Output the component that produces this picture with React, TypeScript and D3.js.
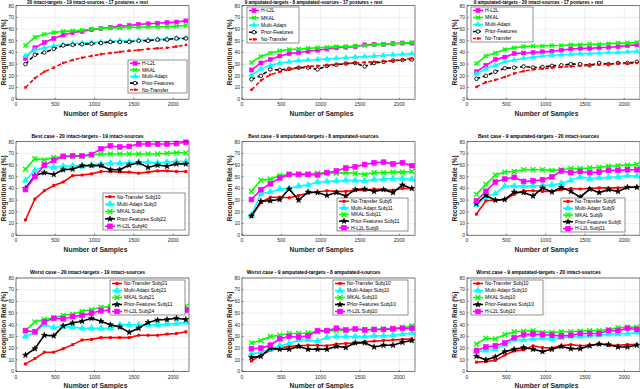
import React from 'react';
import * as d3 from 'd3';

// x positions of every curve (number of samples)
const samples = [120, 240, 360, 480, 600, 720, 840, 960, 1080, 1200, 1320, 1440, 1560, 1680, 1800, 1920, 2040, 2160];
const xTicks = [0, 500, 1000, 1500, 2000];
const yTicks = [0, 10, 20, 30, 40, 50, 60, 70, 80];

const rowTitles = [
  ['20 intact-targets - 19 intact-sources - 17 postures + rest', '9 amputated-targets - 8 amputated-sources - 17 postures + rest', '9 amputated-targets - 20 intact-sources - 17 postures + rest'],
  ['Best case - 20 intact-targets - 19 intact-sources', 'Best case - 9 amputated-targets - 8 amputated-sources', 'Best case - 9 amputated-targets - 20 intact-sources'],
  ['Worst case - 20 intact-targets - 19 intact-sources', 'Worst case - 9 amputated-targets - 8 amputated-sources', 'Worst case - 9 amputated-targets - 20 intact-sources'],
];

// ---- row 1 : averages ----
const a1HL2L = [35, 44, 48.5, 52, 55, 57, 58, 59.5, 60.5, 61.5, 62.5, 63, 64, 64.5, 65, 65.5, 66, 67];
const a1MKAL = [46, 53, 55.5, 57, 58, 58.5, 59, 60, 60.5, 61, 61, 61.5, 61.5, 62, 62, 62, 62.5, 63];
const a1Multi = [37, 42, 44, 45.5, 46.5, 47.5, 48, 48.5, 49, 49.5, 50, 50, 50.5, 51, 51, 51.5, 52, 52.5];
const a1Prior = [30, 38, 40, 43, 46, 46.5, 47, 47.5, 48, 49, 49, 49, 50, 50, 51, 51, 52, 52];
const a1NoTr = [10, 18, 23.5, 27, 31, 33.5, 35.5, 37, 38.5, 39.5, 40.5, 41.5, 42, 43, 43.5, 44, 45, 46.5];

const a2HL2L = [25, 31, 34, 37, 39, 40, 41, 42, 43, 44, 44.5, 45, 46.5, 47, 47, 47.5, 48, 48];
const a2MKAL = [31.5, 36.5, 39.5, 41.5, 42.5, 43, 43.5, 44, 44.5, 45, 45, 45.5, 46, 46.5, 47, 47.5, 48, 48.5];
const a2Multi = [20.5, 26, 29, 31, 32, 33, 33.5, 34, 34.5, 35, 35.5, 36, 36.5, 37, 37.5, 38, 38.5, 39];
const a2Prior = [17, 20, 25.5, 25, 26, 27, 27, 25.5, 28.5, 29.5, 30.5, 31, 28, 31, 32, 33, 33.5, 34];
const a2NoTr = [8, 16, 21, 23.5, 25.5, 27, 28, 28.5, 29, 30, 30.5, 31, 31.5, 32, 32.5, 33, 34, 35];

const a3HL2L = [23.5, 29, 34, 36, 39, 39.5, 40, 40.5, 41, 42, 43, 43.5, 43.5, 44, 44.5, 45, 46, 46.5];
const a3MKAL = [30.5, 37, 39.5, 42.5, 44, 45, 45.5, 45.5, 46, 46, 46.5, 46.5, 47, 47, 47.5, 48, 48, 48.5];
const a3Multi = [21.5, 26, 29, 32, 33.5, 35, 36, 37, 37.5, 38, 38.5, 39, 39, 39.5, 40, 40, 40.5, 41];
const a3Prior = [17.5, 20, 23.5, 26.5, 27, 28, 27, 27.5, 28.5, 29, 30, 30, 29, 31, 30, 31, 31, 32];
const a3NoTr = [10.5, 14.5, 16.5, 19, 22, 24, 25.5, 26, 27, 27.5, 28, 28.5, 29, 29.5, 30, 30.5, 30.5, 31];

// ---- row 2 : best case ----
const b1NoTr = [13, 31, 38, 42.5, 45.5, 51, 51.5, 52.5, 54.5, 54.5, 54, 54, 53, 54, 55, 55, 54.5, 54.5];
const b1Multi = [47, 55.5, 59, 58, 59, 59.5, 59, 60, 61, 61.5, 61.5, 62, 62.5, 62.5, 62, 62.5, 63, 63];
const b1MKAL = [56.5, 65.5, 64.5, 66.5, 67, 67.5, 67.5, 68.5, 69.5, 69.5, 69.5, 69.5, 69.5, 69.5, 69.5, 70, 70.5, 70.5];
const b1Prior = [40, 51, 53.5, 52, 56, 56.5, 59.5, 59.5, 59.5, 56, 56, 60, 62, 58, 60, 59, 61, 61];
const b1HL2L = [39, 50, 60, 64, 67.5, 68, 68, 69, 74, 76.5, 75.5, 76, 78, 78, 78, 78, 78.5, 79.5];

const b2NoTr = [16, 28, 32.5, 32.5, 32, 34, 36, 37, 38, 37.5, 37.5, 38.5, 38.5, 39.5, 39, 38.5, 40, 40];
const b2Multi = [17, 35.5, 37, 39.5, 40, 42, 43, 45.5, 46, 46.5, 47, 47, 46.5, 47.5, 48, 48.5, 48.5, 48];
const b2MKAL = [37.5, 47, 48, 51, 52, 52.5, 52.5, 53, 53.5, 53, 53.5, 53, 52, 53.5, 53.5, 54, 54, 54.5];
const b2Prior = [16.5, 29, 29.5, 30.5, 39.5, 30, 37, 36.5, 34, 36.5, 33.5, 39, 39.5, 37.5, 39, 36.5, 43, 40];
const b2HL2L = [30.5, 39, 44, 49, 52, 52, 52, 51.5, 53.5, 55, 57.5, 58.5, 60.5, 62, 62.5, 61, 62, 59.5];

const b3NoTr = [18, 29.5, 30, 30.5, 35, 38, 38, 37.5, 37.5, 39, 40, 39.5, 40, 40.5, 40.5, 40.5, 41, 41];
const b3Multi = [26, 33, 35.5, 42, 42, 42, 42, 42.5, 43, 44.5, 47, 50, 48.5, 49, 49.5, 50, 51, 50.5];
const b3MKAL = [35, 43.5, 51.5, 54, 54.5, 56, 56, 56, 55.5, 56, 57, 57, 57.5, 58, 59, 59.5, 60, 60.5];
const b3Prior = [27, 34, 30, 30.5, 37, 36.5, 33.5, 40.5, 37, 41, 37.5, 32.5, 39.5, 36.5, 39, 37.5, 41, 41];
const b3HL2L = [29.5, 37.5, 45.5, 48, 49.5, 46, 46.5, 47.5, 50, 55, 53.5, 54.5, 53.5, 54, 55.5, 55.5, 56, 56];

// ---- row 3 : worst case ----
const w1NoTr = [6.5, 11, 16.5, 16.5, 19.5, 23, 27, 27.5, 29, 29, 29, 29, 31, 31, 31, 32, 32.5, 34];
const w1Multi = [30, 33.5, 40, 37.5, 38.5, 38, 37, 37, 37, 37, 40, 40, 40, 40, 40, 40.5, 41, 42];
const w1MKAL = [35, 42.5, 44.5, 46, 48, 49, 51.5, 53, 55, 55.5, 56, 55.5, 55.5, 55, 55, 55, 55, 56];
const w1Prior = [14, 19.5, 31, 30.5, 39, 41.5, 43, 45.5, 43, 40, 38, 33.5, 37, 42, 44, 44.5, 45.5, 44.5];
const w1HL2L = [35, 34, 42.5, 45.5, 45, 47, 48, 50, 52, 52.5, 52, 52.5, 52.5, 52, 52, 52.5, 52.5, 52.5];

const w2NoTr = [9, 14, 18, 20, 21.5, 22, 22.5, 22.5, 22, 23.5, 24, 24.5, 25.5, 26, 26.5, 27, 27.5, 28];
const w2Multi = [15, 16.5, 19, 22, 24, 27, 27, 26, 29, 30, 30, 30, 30, 30.5, 30.5, 31, 32, 33];
const w2MKAL = [24.5, 26.5, 30, 31, 32.5, 32.5, 33, 34, 34.5, 35, 35.5, 36, 36, 36, 36.5, 37, 37.5, 39];
const w2Prior = [12, 13, 20, 19, 19, 21.5, 19, 19, 19, 21.5, 20.5, 24.5, 24.5, 21, 22.5, 22.5, 25, 26.5];
const w2HL2L = [19.5, 20, 22.5, 28, 30, 29.5, 30.5, 35, 35, 37, 35.5, 36.5, 35.5, 36, 36, 36.5, 37, 37];

const w3NoTr = [8, 8.5, 9.5, 14, 17.5, 18.5, 22, 20.5, 20, 22, 23, 22, 22.5, 23.5, 22.5, 22.5, 23, 23];
const w3Multi = [17, 18, 19, 23, 27, 27, 28, 28.5, 28, 29, 30, 30, 30.5, 31, 32, 32, 32.5, 33.5];
const w3MKAL = [23.5, 28.5, 28, 31.5, 34, 34.5, 35, 33.5, 33.5, 34, 34, 34.5, 35, 35, 36, 37.5, 38, 38];
const w3Prior = [13, 10, 12.5, 17, 19, 20.5, 19, 17, 19, 21.5, 19.5, 19.5, 22, 23.5, 23, 21, 21, 22.5];
const w3HL2L = [18, 21, 22, 24.5, 29, 31.5, 32, 31.5, 31, 30.5, 31, 32.5, 32.5, 32.5, 35, 35, 37, 36];

const bestSubjects = [['10', '3', '3', '22', '40'], ['6', '11', '11', '11', '9'], ['6', '9', '9', '6', '11']];
const worstSubjects = [['21', '21', '21', '11', '24'], ['10', '10', '10', '10', '10'], ['10', '10', '10', '10', '10']];

const MAG = '#ff00ff', GRN = '#00ff00', CYA = '#00ffff', BLK = '#000000', RED = '#ff0000';

type Series = { name: string; values: number[]; color: string; marker: string; dashed?: boolean };

const avgSeries = (h: number[], m: number[], mu: number[], p: number[], n: number[]): Series[] => [
  { name: 'H-L2L', values: h, color: MAG, marker: 'square' },
  { name: 'MKAL', values: m, color: GRN, marker: 'x' },
  { name: 'Multi-Adapt', values: mu, color: CYA, marker: 'tri' },
  { name: 'Prior-Features', values: p, color: BLK, marker: 'circle', dashed: true },
  { name: 'No-Transfer', values: n, color: RED, marker: 'dot', dashed: true },
];

const caseSeries = (n: number[], mu: number[], m: number[], p: number[], h: number[], subj: string[]): Series[] => [
  { name: 'No-Transfer Subj' + subj[0], values: n, color: RED, marker: 'dot' },
  { name: 'Multi-Adapt Subj' + subj[1], values: mu, color: CYA, marker: 'tri' },
  { name: 'MKAL Subj' + subj[2], values: m, color: GRN, marker: 'x' },
  { name: 'Prior-Features Subj' + subj[3], values: p, color: BLK, marker: 'star' },
  { name: 'H-L2L Subj' + subj[4], values: h, color: MAG, marker: 'square' },
];

const panelSeries: Series[][][] = [
  [avgSeries(a1HL2L, a1MKAL, a1Multi, a1Prior, a1NoTr), avgSeries(a2HL2L, a2MKAL, a2Multi, a2Prior, a2NoTr), avgSeries(a3HL2L, a3MKAL, a3Multi, a3Prior, a3NoTr)],
  [caseSeries(b1NoTr, b1Multi, b1MKAL, b1Prior, b1HL2L, bestSubjects[0]), caseSeries(b2NoTr, b2Multi, b2MKAL, b2Prior, b2HL2L, bestSubjects[1]), caseSeries(b3NoTr, b3Multi, b3MKAL, b3Prior, b3HL2L, bestSubjects[2])],
  [caseSeries(w1NoTr, w1Multi, w1MKAL, w1Prior, w1HL2L, worstSubjects[0]), caseSeries(w2NoTr, w2Multi, w2MKAL, w2Prior, w2HL2L, worstSubjects[1]), caseSeries(w3NoTr, w3Multi, w3MKAL, w3Prior, w3HL2L, worstSubjects[2])],
];

// layout
const colLeft = [16, 242, 467];
const rowTop = [5.7, 141.7, 278];
const plotW = 173;
const plotH = 93.5;
// legend boxes [x, y, w, h]
const legendBoxes = [
  [[128, 60, 59, 33], [247, 7, 52, 36], [471, 7, 62, 35]],
  [[103, 193, 82, 37], [337, 198, 71, 33], [561, 198, 64, 34]],
  [[110, 280, 75, 35], [333, 280, 75, 35], [471, 280, 72, 35]],
];

const FONT = 'Liberation Sans, Arial, Helvetica, sans-serif';

function Marker({ kind, x, y, color, s }: { kind: string; x: number; y: number; color: string; s: number }) {
  if (kind === 'square') return <rect x={x - s / 2} y={y - s / 2} width={s} height={s} fill={color} stroke={color} strokeWidth={0.6} />;
  if (kind === 'dot') return <rect x={x - s * 0.3} y={y - s * 0.3} width={s * 0.6} height={s * 0.6} fill={color} />;
  if (kind === 'x') {
    const r = s / 2;
    return <path d={`M${x - r},${y - r}L${x + r},${y + r}M${x - r},${y + r}L${x + r},${y - r}`} stroke={color} strokeWidth={1.4} fill="none" />;
  }
  if (kind === 'tri') return <path transform={`translate(${x},${y})`} d={d3.symbol(d3.symbolTriangle, s * s * 0.8)()!} fill={color} stroke={color} strokeWidth={0.5} />;
  if (kind === 'circle') return <circle cx={x} cy={y} r={s * 0.45} fill="#fff" stroke={color} strokeWidth={0.9} />;
  if (kind === 'star') return <path transform={`translate(${x},${y})`} d={d3.symbol(d3.symbolStar, s * s * 0.45)()!} fill={color} stroke={color} strokeWidth={0.6} />;
  return null;
}

function Panel({ row, col }: { row: number; col: number }) {
  const left = colLeft[col];
  const top = rowTop[row];
  const x = d3.scaleLinear().domain([0, 2200]).range([left, left + plotW]);
  const y = d3.scaleLinear().domain([0, 80]).range([top + plotH, top]);
  const series = panelSeries[row][col];
  const ms = row === 0 ? 4 : 4.8;
  const line = d3.line<number>().x((_, i) => x(samples[i])).y(d => y(d));
  const [lx, ly, lw, lh] = legendBoxes[row][col];
  const cx = left + plotW / 2;
  return (
    <g>
      <rect x={left} y={top} width={plotW} height={plotH} fill="#fff" />
      {xTicks.map(t => <line key={'gx' + t} x1={x(t)} x2={x(t)} y1={top} y2={top + plotH} stroke="#dedede" strokeWidth={0.5} />)}
      {yTicks.map(t => <line key={'gy' + t} x1={left} x2={left + plotW} y1={y(t)} y2={y(t)} stroke="#dedede" strokeWidth={0.5} />)}
      {series.map(s => (
        <g key={s.name}>
          <path d={line(s.values)!} fill="none" stroke={s.color} strokeWidth={1.6} strokeDasharray={s.dashed ? '4,2.5' : undefined} />
          {s.values.map((v, i) => <Marker key={i} kind={s.marker} x={x(samples[i])} y={y(v)} color={s.color} s={ms} />)}
        </g>
      ))}
      <rect x={left} y={top} width={plotW} height={plotH} fill="none" stroke="#262626" strokeWidth={0.6} />
      {xTicks.map(t => <line key={'tx' + t} x1={x(t)} x2={x(t)} y1={top + plotH} y2={top + plotH - 1.5} stroke="#262626" strokeWidth={0.5} />)}
      {yTicks.map(t => <line key={'ty' + t} x1={left} x2={left + 1.5} y1={y(t)} y2={y(t)} stroke="#262626" strokeWidth={0.5} />)}
      {xTicks.map(t => (
        <text key={'lx' + t} x={x(t)} y={top + plotH + 7} fontSize={5} textAnchor="middle" fill="#262626" fontFamily={FONT}>{t}</text>
      ))}
      {yTicks.map(t => (
        <text key={'ly' + t} x={left - 2} y={y(t) + 1.8} fontSize={5} textAnchor="end" fill="#262626" fontFamily={FONT}>{t}</text>
      ))}
      <text x={cx - 7} y={top + plotH + 16.5} fontSize={6.8} fontWeight="bold" textAnchor="middle" fill="#262626" fontFamily={FONT}>Number of Samples</text>
      <text transform={`translate(${left - 10.5},${top + plotH / 2}) rotate(-90)`} fontSize={6.6} fontWeight="bold" textAnchor="middle" fill="#262626" fontFamily={FONT}>Recognition Rate (%)</text>
      <text x={cx - 15} y={row === 0 ? 4.3 : top - 4} fontSize={row === 0 ? 4.6 : 5} fontWeight="bold" textAnchor="middle" fill="#000" fontFamily={FONT}>{rowTitles[row][col]}</text>
      <rect x={lx} y={ly} width={lw} height={lh} fill="#fff" stroke="#262626" strokeWidth={0.5} />
      {series.map((s, i) => {
        const yy = ly + (lh / 5) * (i + 0.5);
        return (
          <g key={'lg' + s.name}>
            <line x1={lx + 2} x2={lx + 12} y1={yy} y2={yy} stroke={s.color} strokeWidth={1.6} strokeDasharray={s.dashed ? '3,2' : undefined} />
            <Marker kind={s.marker} x={lx + 7} y={yy} color={s.color} s={ms} />
            <text x={lx + 14} y={yy + 1.8} fontSize={5} fill="#000" fontFamily={FONT}>{s.name}</text>
          </g>
        );
      })}
    </g>
  );
}

export default function App() {
  return (
    <svg width={640} height={389} style={{ position: 'absolute', left: 0, top: 0, background: '#fff' }}>
      {[0, 1, 2].map(r => [0, 1, 2].map(c => <Panel key={r + '-' + c} row={r} col={c} />))}
    </svg>
  );
}
